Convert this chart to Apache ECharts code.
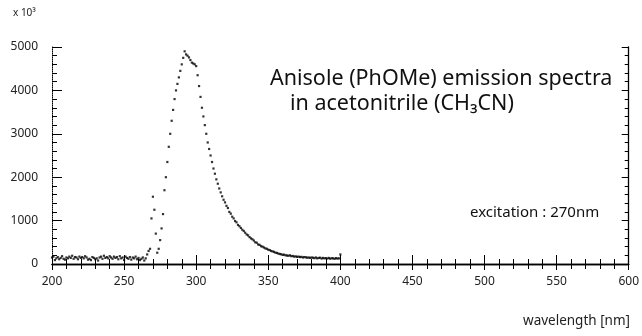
<!DOCTYPE html>
<html><head><meta charset="utf-8">
<script src="https://cdn.jsdelivr.net/npm/echarts@6/dist/echarts.min.js"></script>
<style>html,body{margin:0;padding:0;background:#fff}#c{width:642px;height:336px}</style>
</head><body><div id="c"></div>
<script>
const wavelengths = [
200,201,202,203,204,205,206,207,208,209,
210,211,212,213,214,215,216,217,218,219,
220,221,222,223,224,225,226,227,228,229,
230,231,232,233,234,235,236,237,238,239,
240,241,242,243,244,245,246,247,248,249,
250,251,252,253,254,255,256,257,258,259,
260,261,262,263,264,265,266,267,268,269,
270,271,272,273,274,275,276,277,278,279,
280,281,282,283,284,285,286,287,288,289,
290,291,292,293,294,295,296,297,298,299,
300,301,302,303,304,305,306,307,308,309,
310,311,312,313,314,315,316,317,318,319,
320,321,322,323,324,325,326,327,328,329,
330,331,332,333,334,335,336,337,338,339,
340,341,342,343,344,345,346,347,348,349,
350,351,352,353,354,355,356,357,358,359,
360,361,362,363,364,365,366,367,368,369,
370,371,372,373,374,375,376,377,378,379,
380,381,382,383,384,385,386,387,388,389,
390,391,392,393,394,395,396,397,398,399,400];
const intensity = [
150,170,90,130,160,110,140,180,120,100,
150,130,170,140,190,120,160,150,110,170,
140,160,130,180,150,100,120,90,160,140,
110,130,80,150,170,120,190,140,160,130,
180,150,120,170,140,160,110,180,130,150,
90,170,140,120,160,100,150,130,170,110,
140,90,120,150,80,130,220,300,350,1050,
1550,1250,700,260,350,550,820,1150,1700,2000,
2350,2700,3000,3300,3550,3800,4000,4150,4300,4450,
4600,4750,4900,4830,4800,4760,4700,4640,4620,4600,
4560,4350,4100,3850,3600,3400,3200,3000,2800,2650,
2500,2350,2200,2080,1950,1850,1740,1650,1560,1480,
1420,1340,1290,1200,1160,1090,1050,990,960,900,
870,830,790,760,720,680,660,620,590,570,
540,500,490,450,440,410,400,380,360,350,
330,320,300,290,280,260,255,240,230,225,
210,215,200,195,190,200,180,185,170,175,
165,170,160,165,150,160,155,145,150,140,
150,145,135,150,130,140,145,125,140,130,
135,125,140,120,135,130,120,135,125,130,220];
const xTicks = {min:200, max:600, interval:50};
const yTicks = {min:0, max:5000, interval:1000};

const pts = wavelengths.map((w,i)=>[w,intensity[i]]);
const font = 'Noto Sans';
const chart = echarts.init(document.getElementById('c'), null, {renderer:'canvas'});
const axLine = {show:true, lineStyle:{color:'#000', width:1.3}};
chart.setOption({
  animation:false,
  grid:{left:52, right:12, top:47, bottom:72},
  xAxis:[{
    type:'value', min:xTicks.min, max:xTicks.max, interval:xTicks.interval,
    axisLine:axLine, splitLine:{show:false},
    axisTick:{show:true, inside:true, length:9, lineStyle:{color:'#000'}},
    minorTick:{show:true, splitNumber:5, length:5, lineStyle:{color:'#000'}},
    axisLabel:{color:'#222', fontFamily:font, fontSize:12, margin:12}
  },{
    type:'value', position:'top', min:xTicks.min, max:xTicks.max, interval:xTicks.interval,
    axisLine:axLine, splitLine:{show:false},
    axisTick:{show:true, inside:true, length:6, lineStyle:{color:'#000'}},
    minorTick:{show:true, splitNumber:5, length:5, lineStyle:{color:'#000'}},
    axisLabel:{show:false}
  }],
  yAxis:[{
    type:'value', min:yTicks.min, max:yTicks.max, interval:yTicks.interval,
    axisLine:{show:true, lineStyle:{color:'#000', width:1, type:'dotted'}}, splitLine:{show:false},
    axisTick:{show:true, inside:true, length:10, lineStyle:{color:'#000'}},
    minorTick:{show:true, splitNumber:5, length:5, lineStyle:{color:'#000'}},
    axisLabel:{color:'#222', fontFamily:font, fontSize:12, margin:14, formatter:v=>String(v)}
  },{
    type:'value', position:'right', min:yTicks.min, max:yTicks.max, interval:yTicks.interval,
    axisLine:axLine, splitLine:{show:false},
    axisTick:{show:true, inside:true, length:7, lineStyle:{color:'#000'}},
    minorTick:{show:true, splitNumber:5, length:4, lineStyle:{color:'#000'}},
    axisLabel:{show:false}
  }],
  series:[{
    type:'scatter', data:pts, symbol:'rect', symbolSize:2.2,
    itemStyle:{color:'#000'}, xAxisIndex:0, yAxisIndex:0
  }],
  graphic:[
    {type:'text', left:13, top:8, style:{text:'x 10³', font:'10px "Noto Sans"', fill:'#222'}},
    {type:'text', right:12, top:314, style:{text:'wavelength [nm]', font:'13.5px "Noto Sans"', fill:'#222'}},
    {type:'text', left:270, top:68, style:{text:'Anisole (PhOMe) emission spectra', font:'21.5px "Noto Sans"', fill:'#111'}},
    {type:'text', left:290, top:93, style:{text:'in acetonitrile (CH₃CN)', font:'21.5px "Noto Sans"', fill:'#111'}},
    {type:'text', left:470, top:205, style:{text:'excitation : 270nm', font:'15px "Noto Sans"', fill:'#111'}}
  ]
});
</script></body></html>
